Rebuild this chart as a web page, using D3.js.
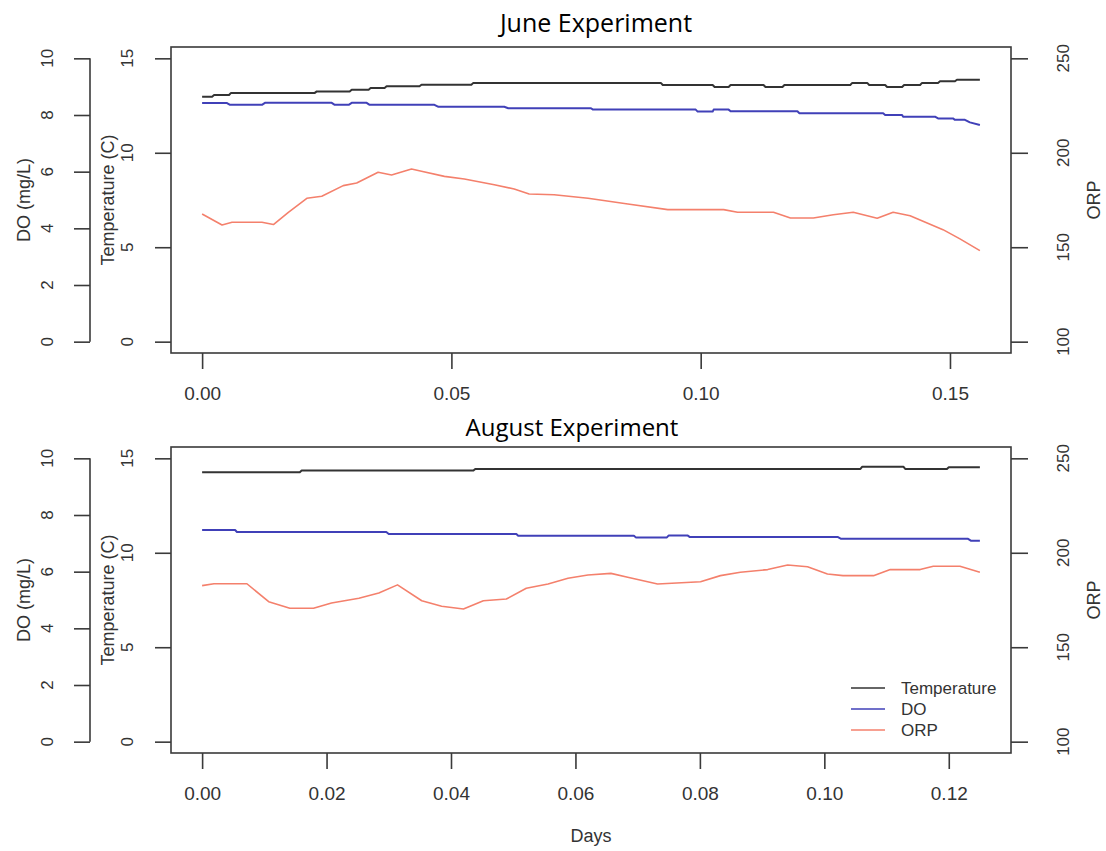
<!DOCTYPE html>
<html>
<head>
<meta charset="utf-8">
<script src="https://cdn.jsdelivr.net/npm/d3@7"></script>
<style>
  html, body { margin: 0; padding: 0; background: #fff; }
  svg { display: block; }
</style>
</head>
<body>
<svg id="chart" width="1106" height="851"></svg>
<script>
// ---------------- DATA ----------------
const panelTitles = ["June Experiment", "August Experiment"];
const seriesNames = ["Temperature", "DO", "ORP"];

// June experiment
const juneTempDays = [0, 0.002, 0.0024, 0.0054, 0.0058, 0.0226, 0.023, 0.0296, 0.030, 0.0334, 0.0338, 0.0366, 0.037, 0.0436, 0.044, 0.054, 0.0544, 0.092, 0.0924, 0.1024, 0.1028, 0.1056, 0.106, 0.1126, 0.113, 0.1164, 0.1168, 0.130, 0.1304, 0.1334, 0.1338, 0.137, 0.1374, 0.1404, 0.1408, 0.144, 0.1444, 0.1476, 0.148, 0.151, 0.1514, 0.156];
const juneTemp = [12.97, 12.97, 13.06, 13.06, 13.17, 13.17, 13.25, 13.25, 13.34, 13.34, 13.43, 13.43, 13.52, 13.52, 13.60, 13.60, 13.70, 13.70, 13.59, 13.59, 13.48, 13.48, 13.59, 13.59, 13.48, 13.48, 13.59, 13.59, 13.70, 13.70, 13.59, 13.59, 13.48, 13.48, 13.59, 13.59, 13.70, 13.70, 13.79, 13.79, 13.87, 13.87];

const juneDODays = [0, 0.005, 0.0056, 0.012, 0.0126, 0.026, 0.0266, 0.0294, 0.030, 0.033, 0.0336, 0.0466, 0.0474, 0.0606, 0.0614, 0.078, 0.0784, 0.099, 0.0994, 0.1024, 0.1026, 0.1056, 0.106, 0.1194, 0.1198, 0.1366, 0.137, 0.1404, 0.1406, 0.147, 0.1476, 0.1506, 0.151, 0.153, 0.154, 0.156];
const juneDO = [8.42, 8.42, 8.36, 8.36, 8.43, 8.43, 8.36, 8.36, 8.43, 8.43, 8.36, 8.36, 8.29, 8.29, 8.24, 8.24, 8.19, 8.19, 8.12, 8.12, 8.19, 8.19, 8.13, 8.13, 8.06, 8.06, 8.00, 8.00, 7.94, 7.94, 7.88, 7.88, 7.83, 7.83, 7.74, 7.65];

const juneORPDays = [0, 0.004, 0.006, 0.012, 0.0143, 0.0173, 0.021, 0.024, 0.0283, 0.031, 0.0353, 0.038, 0.042, 0.044, 0.0486, 0.0526, 0.0586, 0.0626, 0.0656, 0.0706, 0.0774, 0.0854, 0.0934, 0.1046, 0.1074, 0.1146, 0.118, 0.1226, 0.1266, 0.1306, 0.1354, 0.1386, 0.142, 0.1486, 0.152, 0.156];
const juneORP = [167.6, 161.8, 163.2, 163.2, 162.0, 168.5, 175.9, 177.0, 182.6, 184.0, 189.7, 188.2, 191.4, 190.2, 187.5, 186.1, 183.1, 180.8, 178.2, 177.8, 175.9, 172.9, 169.9, 169.9, 168.5, 168.5, 165.5, 165.5, 167.2, 168.5, 165.3, 168.5, 166.7, 159.3, 154.4, 148.2];

// August experiment
const augTempDays = [0, 0.0157, 0.016, 0.0436, 0.0439, 0.1058, 0.1061, 0.1127, 0.113, 0.1197, 0.120, 0.125];
const augTemp = [14.26, 14.26, 14.35, 14.35, 14.44, 14.44, 14.56, 14.56, 14.44, 14.44, 14.53, 14.53];

const augDODays = [0, 0.0053, 0.0056, 0.0296, 0.030, 0.0505, 0.0508, 0.0694, 0.0697, 0.0747, 0.075, 0.078, 0.0784, 0.1022, 0.1027, 0.1231, 0.1236, 0.125];
const augDO = [7.47, 7.47, 7.40, 7.40, 7.33, 7.33, 7.27, 7.27, 7.21, 7.21, 7.28, 7.28, 7.22, 7.22, 7.16, 7.16, 7.09, 7.09];

const augORPDays = [0, 0.0019, 0.0072, 0.0107, 0.0141, 0.0179, 0.0208, 0.0252, 0.0284, 0.0314, 0.0353, 0.0385, 0.042, 0.0452, 0.0489, 0.0521, 0.0556, 0.0588, 0.062, 0.0657, 0.0684, 0.0732, 0.0801, 0.0833, 0.0865, 0.0909, 0.0941, 0.0973, 0.1005, 0.103, 0.1079, 0.1106, 0.1154, 0.1175, 0.1218, 0.125];
const augORP = [182.6, 183.6, 183.6, 174.1, 170.6, 170.6, 173.4, 175.9, 178.7, 183.0, 174.6, 171.7, 170.2, 174.6, 175.5, 181.2, 183.5, 186.5, 188.2, 189.1, 187.0, 183.5, 184.7, 187.9, 189.7, 191.1, 193.5, 192.6, 188.8, 187.9, 187.9, 191.1, 191.1, 192.9, 192.9, 189.7];

// Tick labels
const juneXTicks = [0, 0.05, 0.10, 0.15];
const augXTicks = [0, 0.02, 0.04, 0.06, 0.08, 0.10, 0.12];
const doTicks = [0, 2, 4, 6, 8, 10];
const tempTicks = [0, 5, 10, 15];
const orpTicks = [100, 150, 200, 250];
const doDomain = [0, 10];
const tempDomain = [0, 15];
const orpDomain = [100, 250];

// ---------------- STYLE ----------------
const colors = { Temperature: "#333333", DO: "#4040b8", ORP: "#f4806c" };
const widths = { Temperature: 2, DO: 2, ORP: 1.6 };
const axisColor = "#3a3a3a";
const textColor = "#333333";
const rFont = "'Liberation Sans', Arial, sans-serif";
const titleFont = "'Open Sans', 'Noto Sans', sans-serif";

const svg = d3.select("#chart");

const box = { left: 171, right: 1011 };

function panel(cfg) {
  const top = cfg.top, bottom = cfg.top + 306;
  const g = svg.append("g");
  const xmax = cfg.xmax;
  const pad = 0.04;
  const x = d3.scaleLinear()
    .domain([-pad * xmax, (1 + pad) * xmax])
    .range([box.left, box.right]);
  const ext = (d) => { const r = d[1] - d[0]; return [d[0] - pad * r, d[1] + pad * r]; };
  const yDO = d3.scaleLinear().domain(ext(doDomain)).range([bottom, top]);
  const yT = d3.scaleLinear().domain(ext(tempDomain)).range([bottom, top]);
  const yO = d3.scaleLinear().domain(ext(orpDomain)).range([bottom, top]);

  // Lines
  const mk = (days, vals) => days.map((d, i) => [d, vals[i]]);
  const series = [
    { name: "ORP", data: mk(cfg.orpDays, cfg.orp), y: yO },
    { name: "DO", data: mk(cfg.doDays, cfg.do), y: yDO },
    { name: "Temperature", data: mk(cfg.tempDays, cfg.temp), y: yT }
  ];
  series.forEach(s => {
    const line = d3.line().x(d => x(d[0])).y(d => s.y(d[1]));
    g.append("path")
      .attr("d", line(s.data))
      .attr("fill", "none")
      .attr("stroke", colors[s.name])
      .attr("stroke-width", widths[s.name])
      .attr("stroke-linejoin", "round")
      .attr("stroke-linecap", "butt");
  });

  // Box
  g.append("rect")
    .attr("x", box.left).attr("y", top)
    .attr("width", box.right - box.left).attr("height", bottom - top)
    .attr("fill", "none").attr("stroke", axisColor).attr("stroke-width", 1.6);

  // X axis (ticks below the box)
  const xAxis = d3.axisBottom(x).tickValues(cfg.xTicks).tickSize(16).tickPadding(18)
    .tickFormat(d3.format(".2f"));
  const gx = g.append("g").attr("transform", `translate(0,${bottom})`).call(xAxis);
  gx.select(".domain").remove();
  gx.selectAll(".tick line").attr("stroke", axisColor).attr("stroke-width", 1.6);
  gx.selectAll(".tick text").attr("fill", textColor).attr("font-family", rFont)
    .attr("font-size", 19).attr("dy", "0.71em");

  // Rotated tick label helper
  function rotLabels(scale, ticks, xpos, size) {
    g.append("g").selectAll("text").data(ticks).join("text")
      .attr("transform", d => `translate(${xpos},${scale(d)}) rotate(-90)`)
      .attr("text-anchor", "middle")
      .attr("dominant-baseline", "central")
      .attr("font-family", rFont).attr("font-size", size)
      .attr("fill", textColor)
      .text(d => d);
  }

  // DO axis (outer left)
  const doAxis = d3.axisLeft(yDO).tickValues(doTicks).tickSize(16).tickFormat("");
  const gdo = g.append("g").attr("transform", "translate(90,0)").call(doAxis);
  gdo.select(".domain").attr("d", `M0,${yDO(doDomain[0])}V${yDO(doDomain[1])}`)
    .attr("stroke", axisColor).attr("stroke-width", 1.6);
  gdo.selectAll(".tick line").attr("stroke", axisColor).attr("stroke-width", 1.6);
  rotLabels(yDO, doTicks, 47, 17);

  // Temperature axis (inner left)
  const tAxis = d3.axisLeft(yT).tickValues(tempTicks).tickSize(16).tickFormat("");
  const gt = g.append("g").attr("transform", `translate(${box.left},0)`).call(tAxis);
  gt.select(".domain").remove();
  gt.selectAll(".tick line").attr("stroke", axisColor).attr("stroke-width", 1.6);
  rotLabels(yT, tempTicks, 127, 17);

  // ORP axis (right)
  const oAxis = d3.axisRight(yO).tickValues(orpTicks).tickSize(17).tickFormat("");
  const go = g.append("g").attr("transform", `translate(${box.right},0)`).call(oAxis);
  go.select(".domain").remove();
  go.selectAll(".tick line").attr("stroke", axisColor).attr("stroke-width", 1.6);
  rotLabels(yO, orpTicks, 1063, 17);

  // Axis titles
  const midY = (top + bottom) / 2;
  const titleAt = (xpos, txt) => g.append("text")
    .attr("transform", `translate(${xpos},${midY}) rotate(-90)`)
    .attr("text-anchor", "middle").attr("dominant-baseline", "central")
    .attr("font-family", rFont).attr("font-size", 18).attr("fill", textColor)
    .text(txt);
  titleAt(24, "DO (mg/L)");
  titleAt(108, "Temperature (C)");
  titleAt(1094, "ORP");

  // Panel title
  g.append("text")
    .attr("x", cfg.titleX).attr("y", cfg.titleY)
    .attr("text-anchor", "middle").attr("dominant-baseline", "central")
    .attr("font-family", titleFont).attr("font-size", cfg.titleSize).attr("fill", "#000")
    .text(cfg.title);

  return { x, top, bottom };
}

panel({
  top: 47, xmax: 0.156, xTicks: juneXTicks, title: panelTitles[0], titleX: 596, titleY: 22, titleSize: 25,
  tempDays: juneTempDays, temp: juneTemp, doDays: juneDODays, do: juneDO,
  orpDays: juneORPDays, orp: juneORP
});
panel({
  top: 447, xmax: 0.125, xTicks: augXTicks, title: panelTitles[1], titleX: 572, titleY: 426, titleSize: 24,
  tempDays: augTempDays, temp: augTemp, doDays: augDODays, do: augDO,
  orpDays: augORPDays, orp: augORP
});

// X axis title
svg.append("text")
  .attr("x", 591).attr("y", 836)
  .attr("text-anchor", "middle").attr("dominant-baseline", "central")
  .attr("font-family", rFont).attr("font-size", 18).attr("fill", textColor)
  .text("Days");

// Legend
const legend = svg.append("g");
seriesNames.forEach((name, i) => {
  const ly = 688 + i * 21;
  legend.append("line")
    .attr("x1", 851).attr("x2", 885).attr("y1", ly).attr("y2", ly)
    .attr("stroke", colors[name]).attr("stroke-width", 1.6);
  legend.append("text")
    .attr("x", 901).attr("y", ly)
    .attr("dominant-baseline", "central")
    .attr("font-family", rFont).attr("font-size", 17).attr("fill", textColor)
    .text(name);
});
</script>
</body>
</html>
